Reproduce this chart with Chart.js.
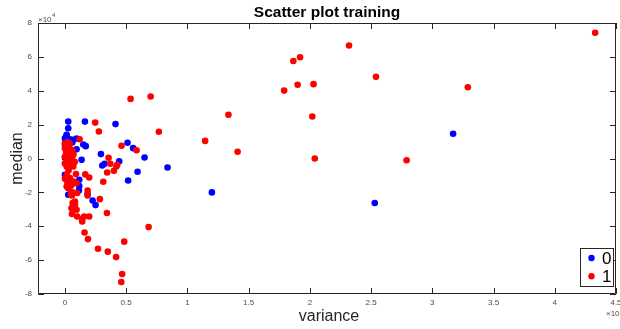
<!DOCTYPE html>
<html>
<head>
<meta charset="utf-8">
<script src="https://cdn.jsdelivr.net/npm/chart.js@4/dist/chart.umd.min.js"></script>
<style>
  html, body { margin: 0; padding: 0; background: #fff; }
  #wrap { width: 620px; height: 329px; }
</style>
</head>
<body>
<div id="wrap"><canvas id="scatter" width="620" height="329"></canvas></div>
<script>
// class labels
const classes = ['0', '1']

// class 0 (variance x1e?, median x1e4)
const blueX = [0.027, 0.027, 0.163, 0.413, 0.013, 0.041, 0.068, 0.095, 0.0, 0.15, 0.17, 0.095,
  0.511, 0.557, 0.65, 0.294, 0.136, 0.054, 0.305, 0.324, 0.443, 0.838, 0.593, 0.516, 1.20,
  2.53, 3.17, 0.0, 0.117, 0.117, 0.114, 0.027, 0.185, 0.226, 0.25, 0.0, 0.01, 0.06, 0.005, 0.0, 0.014]
const blueY = [2.18, 1.79, 2.18, 2.03, 1.34, 1.14, 1.10, 1.18, 0.80, 0.83, 0.73, 0.55,
  0.93, 0.61, 0.06, 0.26, -0.08, -0.18, -0.41, -0.31, -0.16, -0.53, -0.78, -1.30, -2.00,
  -2.63, 1.46, -0.96, -1.26, -1.63, -1.89, -2.14, -2.10, -2.48, -2.75, 0.05, 0.45, 0.95, 1.05, 1.2, 1.4]

// class 1
const redX = [4.33, 2.32, 1.92, 1.865, 1.79, 1.90, 2.03, 2.54, 3.29, 2.02, 2.04, 2.79, 1.335, 1.41, 1.145,
  0.536, 0.70, 0.767, 0.247, 0.277, 0.12, 0.462, 0.585, 0.356, 0.37, 0.42, 0.427, 0.40, 0.345, 0.313,
  0.285, 0.343, 0.683, 0.484, 0.27, 0.35, 0.418, 0.467, 0.46,
  0.166, 0.198, 0.09, 0.185, 0.185, 0.10, 0.057,
  0.16, 0.188, 0.141, 0.141, 0.198, 0.157, 0.10, 0.057,
  0.063, 0.082, 0.054, 0.095, 0.082, 0.05,
  0.014, 0.041, 0.068, 0.014, 0.041, 0.068, 0.014, 0.054, 0.095, 0.027, 0.054,
  0.0, 0.02, 0.04, 0.0, 0.03, 0.06, 0.01, 0.04, 0.07, 0.0, 0.03, 0.06, 0.02, 0.05, 0.08, 0.0, 0.03, 0.0, 0.02, 0.035]
const redY = [7.42, 6.67, 5.98, 5.76, 4.01, 4.35, 4.39, 4.82, 4.21, 2.48, 0.0, -0.10, 2.58, 0.40, 1.04,
  3.52, 3.66, 1.58, 2.12, 1.59, 1.14, 0.75, 0.49, 0.04, -0.31, -0.47, -0.37, -0.73, -0.83, -1.37,
  -2.40, -3.22, -4.05, -4.91, -5.33, -5.50, -5.82, -6.82, -7.29,
  -0.94, -1.12, -0.92, -1.89, -2.18, -2.04, -2.18,
  -4.37, -4.76, -3.72, -3.56, -3.42, -3.42, -3.42, -3.28,
  -2.63, -2.73, -2.93, -3.03, -2.54, -2.14,
  -0.47, -0.37, -0.47, -0.96, -1.16, -1.36, -1.65, -1.56, -1.46, -1.75, -1.95,
  0.9, 0.95, 0.85, 0.6, 0.65, 0.5, 0.35, 0.3, 0.25, 0.1, 0.05, 0.1, -0.15, -0.1, -0.2, -0.3, -0.7, -1.2, -1.4, 0.91]

// tick labels
const xTicks = [0, 0.5, 1, 1.5, 2, 2.5, 3, 3.5, 4, 4.5]
const yTicks = [-8, -6, -4, -2, 0, 2, 4, 6, 8]

const FONT = 'Liberation Sans, Arial, Helvetica, sans-serif'
const AXIS = '#262626'

const toPoints = (xs, ys) => xs.map((x, i) => ({ x, y: ys[i] }))

// box, inward ticks, title, labels, exponents and legend, matlab style
const matlabPlugin = {
  id: 'matlabPlugin',
  afterDraw (chart) {
    const { ctx, chartArea: { left, right, top, bottom }, scales: { x, y } } = chart
    const tl = 6
    ctx.save()
    ctx.strokeStyle = AXIS
    ctx.lineWidth = 1
    ctx.beginPath()
    ctx.rect(left + 0.5, top + 0.5, right - left - 1, bottom - top - 1)
    xTicks.forEach(v => {
      const px = Math.round(x.getPixelForValue(v)) + 0.5
      ctx.moveTo(px, bottom); ctx.lineTo(px, bottom - tl)
      ctx.moveTo(px, top); ctx.lineTo(px, top + tl)
    })
    yTicks.forEach(v => {
      const py = Math.round(y.getPixelForValue(v)) + 0.5
      ctx.moveTo(left, py); ctx.lineTo(left + tl, py)
      ctx.moveTo(right, py); ctx.lineTo(right - tl, py)
    })
    ctx.stroke()

    // title
    ctx.fillStyle = '#000'
    ctx.textAlign = 'center'
    ctx.textBaseline = 'alphabetic'
    ctx.font = 'bold 15.5px ' + FONT
    ctx.fillText('Scatter plot training', (left + right) / 2, 17)

    // axis titles
    ctx.fillStyle = AXIS
    ctx.font = '16px ' + FONT
    ctx.textBaseline = 'middle'
    ctx.fillText('variance', (left + right) / 2 + 2, 317)
    ctx.save()
    ctx.translate(18, (top + bottom) / 2)
    ctx.rotate(-Math.PI / 2)
    ctx.fillText('median', 0, 0)
    ctx.restore()

    // exponent labels
    ctx.fillStyle = '#4d4d4d'
    ctx.textAlign = 'left'
    ctx.font = '8px ' + FONT
    ctx.fillText('\u00d710', 38, 19.5)
    ctx.font = '6px ' + FONT
    ctx.fillText('4', 52, 15.5)
    ctx.font = '8px ' + FONT
    ctx.fillText('\u00d710', 606, 314)

    // legend
    const lx = 580.5, ly = 248.5, lw = 33, lh = 38
    ctx.fillStyle = '#fff'
    ctx.fillRect(lx, ly, lw, lh)
    ctx.strokeStyle = AXIS
    ctx.strokeRect(lx, ly, lw, lh)
    chart.data.datasets.slice().sort((a, b) => a.label.localeCompare(b.label)).forEach((ds, i) => {
      const cy = 258 + i * 18.3
      ctx.fillStyle = ds.backgroundColor
      ctx.beginPath()
      ctx.arc(591.5, cy, 3.2, 0, Math.PI * 2)
      ctx.fill()
      ctx.fillStyle = '#000'
      ctx.font = '17px ' + FONT
      ctx.textBaseline = 'middle'
      ctx.fillText(ds.label, 602, cy + 1)
    })
    ctx.restore()
  }
}

const ctx = document.getElementById('scatter').getContext('2d')
new Chart(ctx, {
  type: 'scatter',
  data: {
    datasets: [
      {
        label: classes[1],
        data: toPoints(redX, redY),
        backgroundColor: '#ff0000',
        borderWidth: 0,
        pointRadius: 3.3,
        order: 0
      },
      {
        label: classes[0],
        data: toPoints(blueX, blueY),
        backgroundColor: '#0000ff',
        borderWidth: 0,
        pointRadius: 3.3,
        order: 1
      }
    ]
  },
  options: {
    responsive: false,
    animation: false,
    events: [],
    layout: { padding: { top: 23, right: 2, left: 0, bottom: 0 } },
    plugins: {
      legend: { display: false },
      tooltip: { enabled: false },
      title: { display: false }
    },
    scales: {
      x: {
        type: 'linear',
        min: -0.22,
        max: 4.5,
        grid: { display: false, drawTicks: false },
        border: { display: false },
        afterBuildTicks (scale) { scale.ticks = xTicks.map(value => ({ value })) },
        afterFit (scale) { scale.height = 35; scale.paddingLeft = 0; scale.paddingRight = 0 },
        ticks: {
          autoSkip: false,
          maxRotation: 0,
          padding: 4,
          color: '#4d4d4d',
          font: { family: FONT, size: 8 },
          callback: v => String(v)
        }
      },
      y: {
        type: 'linear',
        min: -8,
        max: 8,
        grid: { display: false, drawTicks: false },
        border: { display: false },
        afterBuildTicks (scale) { scale.ticks = yTicks.map(value => ({ value })) },
        afterFit (scale) { scale.width = 38; scale.paddingTop = 0; scale.paddingBottom = 0 },
        ticks: {
          autoSkip: false,
          padding: 6,
          color: '#4d4d4d',
          font: { family: FONT, size: 8 },
          callback: v => String(v)
        }
      }
    }
  },
  plugins: [matlabPlugin]
})
</script>
</body>
</html>
